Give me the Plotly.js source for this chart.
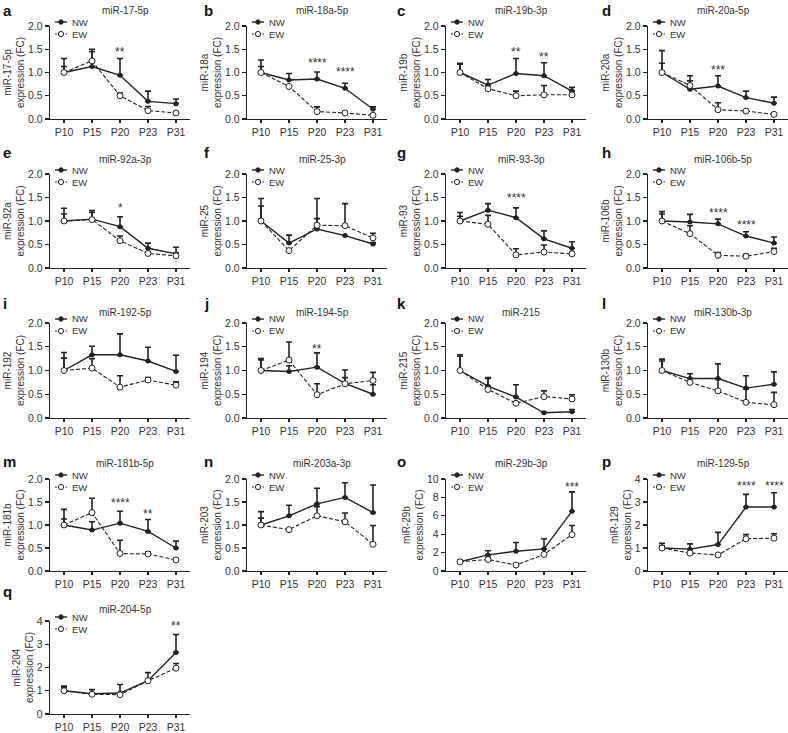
<!DOCTYPE html>
<html><head><meta charset="utf-8">
<script src="https://cdn.plot.ly/plotly-3.0.1.min.js"></script>
<style>body{margin:0;background:#fff}#chart{width:788px;height:733px}</style>
</head><body><div id="chart"></div>
<script>
const stages = ['P10','P15','P20','P23','P31'];
const seriesNames = ['NW','EW'];
const panelLetters = ['a','b','c','d','e','f','g','h','i','j','k','l','m','n','o','p','q'];
const panelTitles = ['miR-17-5p','miR-18a-5p','miR-19b-3p','miR-20a-5p','miR-92a-3p','miR-25-3p','miR-93-3p','miR-106b-5p','miR-192-5p','miR-194-5p','miR-215','miR-130b-3p','miR-181b-5p','miR-203a-3p','miR-29b-3p','miR-129-5p','miR-204-5p'];
const yLabels = ['miR-17-5p','miR-18a','miR-19b','miR-20a','miR-92a','miR-25','miR-93','miR-106b','miR-192','miR-194','miR-215','miR-130b','miR-181b','miR-203','miR-29b','miR-129','miR-204'];

const a_NW=[1.0,1.13,0.94,0.38,0.33], a_NWerr=[0.30,0.32,0.36,0.22,0.10];
const a_EW=[1.0,1.25,0.50,0.18,0.13], a_EWerr=[0.13,0.25,0.06,0.09,0.02];
const b_NW=[1.0,0.84,0.86,0.66,0.21], b_NWerr=[0.27,0.14,0.15,0.11,0.05];
const b_EW=[1.0,0.70,0.16,0.13,0.08], b_EWerr=[0.13,0.0,0.10,0.02,0.02];
const c_NW=[1.0,0.73,0.98,0.93,0.60], c_NWerr=[0.20,0.12,0.32,0.28,0.08];
const c_EW=[1.0,0.65,0.50,0.52,0.52], c_EWerr=[0.18,0.0,0.10,0.20,0.0];
const d_NW=[1.0,0.64,0.71,0.46,0.34], d_NWerr=[0.47,0.18,0.22,0.14,0.13];
const d_EW=[1.0,0.72,0.20,0.17,0.10], d_EWerr=[0.20,0.21,0.15,0.02,0.01];
const e_NW=[1.0,1.04,0.88,0.42,0.30], e_NWerr=[0.27,0.18,0.21,0.11,0.14];
const e_EW=[1.0,1.03,0.58,0.31,0.26], e_EWerr=[0.15,0.15,0.10,0.02,0.06];
const f_NW=[1.0,0.53,0.83,0.69,0.51], f_NWerr=[0.48,0.17,0.22,0.0,0.03];
const f_EW=[1.0,0.37,0.91,0.90,0.64], f_EWerr=[0.32,0.0,0.57,0.47,0.10];
const g_NW=[1.0,1.23,1.07,0.62,0.42], g_NWerr=[0.18,0.14,0.21,0.17,0.14];
const g_EW=[1.0,0.93,0.28,0.34,0.30], g_EWerr=[0.10,0.19,0.13,0.15,0.0];
const h_NW=[1.0,0.98,0.94,0.68,0.53], h_NWerr=[0.20,0.16,0.10,0.09,0.13];
const h_EW=[1.0,0.73,0.27,0.25,0.35], h_EWerr=[0.15,0.17,0.06,0.04,0.07];
const i_NW=[1.0,1.33,1.33,1.20,0.98], i_NWerr=[0.38,0.18,0.44,0.29,0.34];
const i_EW=[1.0,1.05,0.65,0.80,0.69], i_EWerr=[0.26,0.20,0.24,0.05,0.07];
const j_NW=[1.0,0.98,1.07,0.73,0.50], j_NWerr=[0.25,0.12,0.30,0.28,0.20];
const j_EW=[1.0,1.22,0.49,0.72,0.79], j_EWerr=[0.22,0.38,0.23,0.13,0.17];
const k_NW=[1.0,0.67,0.44,0.11,0.13], k_NWerr=[0.33,0.18,0.26,0.01,0.05];
const k_EW=[1.0,0.60,0.31,0.45,0.40], k_EWerr=[0.30,0.23,0.0,0.12,0.09];
const l_NW=[1.0,0.83,0.83,0.63,0.71], l_NWerr=[0.24,0.10,0.31,0.26,0.26];
const l_EW=[1.0,0.75,0.57,0.33,0.28], l_EWerr=[0.20,0.0,0.25,0.28,0.26];
const m_NW=[1.0,0.89,1.04,0.86,0.50], m_NWerr=[0.34,0.18,0.26,0.26,0.15];
const m_EW=[1.0,1.27,0.38,0.37,0.24], m_EWerr=[0.13,0.31,0.29,0.05,0.03];
const n_NW=[1.0,1.20,1.46,1.60,1.27], n_NWerr=[0.29,0.23,0.34,0.32,0.60];
const n_EW=[1.0,0.90,1.20,1.07,0.58], n_EWerr=[0.15,0.0,0.20,0.19,0.41];
const o_NW=[1.0,1.75,2.15,2.40,6.50], o_NWerr=[0.20,0.45,0.95,1.10,2.10];
const o_EW=[1.0,1.25,0.65,1.80,3.95], o_EWerr=[0.10,0.25,0.0,0.0,1.00];
const p_NW=[1.0,0.95,1.15,2.78,2.78], p_NWerr=[0.20,0.23,0.53,0.55,0.62];
const p_EW=[1.0,0.78,0.70,1.40,1.43], p_EWerr=[0.10,0.0,0.0,0.18,0.19];
const q_NW=[1.0,0.87,0.90,1.43,2.65], q_NWerr=[0.20,0.18,0.37,0.35,0.77];
const q_EW=[1.0,0.85,0.83,1.43,1.97], q_EWerr=[0.15,0.0,0.0,0.0,0.20];

const yMax  = [2,2,2,2,2,2,2,2,2,2,2,2,2,2,10,4,4];
const yStep = [0.5,0.5,0.5,0.5,0.5,0.5,0.5,0.5,0.5,0.5,0.5,0.5,0.5,0.5,2,1,1];

// significance marks: [panel letter, stage, y value, text]
const starPanel = ['a','b','b','c','c','d','e','g','h','h','j','m','m','o','p','p','q'];
const starStage = ['P20','P20','P23','P20','P23','P20','P20','P20','P20','P23','P20','P20','P23','P31','P23','P31','P31'];
const starY     = [1.45,1.2,1.02,1.44,1.34,1.05,1.27,1.49,1.16,0.91,1.46,1.47,1.24,9.1,3.68,3.68,3.79];
const starText  = ['**','****','****','**','**','***','*','****','****','****','**','****','**','***','****','****','**'];

const dataMap = {a:[a_NW,a_NWerr,a_EW,a_EWerr],b:[b_NW,b_NWerr,b_EW,b_EWerr],c:[c_NW,c_NWerr,c_EW,c_EWerr],d:[d_NW,d_NWerr,d_EW,d_EWerr],
 e:[e_NW,e_NWerr,e_EW,e_EWerr],f:[f_NW,f_NWerr,f_EW,f_EWerr],g:[g_NW,g_NWerr,g_EW,g_EWerr],h:[h_NW,h_NWerr,h_EW,h_EWerr],
 i:[i_NW,i_NWerr,i_EW,i_EWerr],j:[j_NW,j_NWerr,j_EW,j_EWerr],k:[k_NW,k_NWerr,k_EW,k_EWerr],l:[l_NW,l_NWerr,l_EW,l_EWerr],
 m:[m_NW,m_NWerr,m_EW,m_EWerr],n:[n_NW,n_NWerr,n_EW,n_EWerr],o:[o_NW,o_NWerr,o_EW,o_EWerr],p:[p_NW,p_NWerr,p_EW,p_EWerr],
 q:[q_NW,q_NWerr,q_EW,q_EWerr]};

// ---- layout geometry (pixels) ----
const W=788, H=733;
const colLeft=[50,247,446,648], plotW=140;
const rowTop=[26,174,323,479,621], rowBot=[119,268,418,571,714];
const titleYpx=[10,160,313,463,609];
const letterXpx=[1,202,395,600];
const letterYpx=[10,152,303,461,591];
const FONT='"Liberation Sans", Arial, sans-serif';
const INK='#222', TXT='#333';
const px=v=>v/W, py=v=>1-v/H;

const traces=[]; const shapes=[];
const layout={width:W,height:H,margin:{l:0,r:0,t:0,b:0},paper_bgcolor:'#fff',plot_bgcolor:'#fff',
  font:{family:FONT,color:TXT,size:10},showlegend:false,annotations:[],shapes:shapes};

panelLetters.forEach((L,idx)=>{
  const r=Math.floor(idx/4), c=idx%4, n=idx+1, sfx=n===1?'':String(n);
  const left=colLeft[c];
  const [nw,nwe,ew,ewe]=dataMap[L];
  traces.push({x:stages,y:nw,type:'scatter',mode:'lines+markers',name:seriesNames[0],xaxis:'x'+sfx,yaxis:'y'+sfx,
    line:{color:INK,width:1.4},marker:{symbol:'circle',size:5,color:INK},
    error_y:{type:'data',symmetric:false,array:nwe,arrayminus:nwe.map(()=>0),color:INK,thickness:1.6,width:3}});
  traces.push({x:stages,y:ew,type:'scatter',mode:'lines+markers',name:seriesNames[1],xaxis:'x'+sfx,yaxis:'y'+sfx,
    line:{color:INK,width:1.1,dash:'4px,2px'},marker:{symbol:'circle',size:6,color:'#fff',line:{color:INK,width:1}},
    error_y:{type:'data',symmetric:false,array:ewe,arrayminus:ewe.map(()=>0),color:INK,thickness:1.6,width:3}});
  layout['xaxis'+sfx]={domain:[px(left),px(left+plotW)],anchor:'y'+sfx,type:'category',categoryarray:stages,range:[-0.5,4.5],
    showline:true,linecolor:INK,linewidth:1.2,ticks:'outside',ticklen:3,tickcolor:INK,tickwidth:1.2,showgrid:false,zeroline:false,
    tickfont:{size:10.5,color:TXT},fixedrange:true};
  layout['yaxis'+sfx]={domain:[py(rowBot[r]),py(rowTop[r])],anchor:'x'+sfx,range:[0,yMax[idx]],dtick:yStep[idx],tick0:0,
    tickformat:yMax[idx]===2?'.1f':'d',showline:true,linecolor:INK,linewidth:1.2,ticks:'outside',ticklen:4,tickcolor:INK,tickwidth:1.2,
    showgrid:false,zeroline:false,tickfont:{size:10.5,color:TXT},
    title:{text:yLabels[idx]+'<br>expression (FC)',font:{size:10,color:TXT},standoff:1},fixedrange:true};
  // legend keys (drawn as a small key box at top-left of each panel)
  const lx0=left+5, lx1=left+17, ly=[rowTop[r]-4, rowTop[r]+8];
  [0,1].forEach(s=>{
    shapes.push({type:'line',xref:'paper',yref:'paper',x0:px(lx0),x1:px(lx1),y0:py(ly[s]),y1:py(ly[s]),
      line:{color:INK,width:s===0?1.4:1.1,dash:s===0?'solid':'2px,1.5px'}});
    const rr=s===0?2.2:2.6, cx=(lx0+lx1)/2;
    shapes.push({type:'circle',xref:'paper',yref:'paper',x0:px(cx-rr),x1:px(cx+rr),y0:py(ly[s]+rr),y1:py(ly[s]-rr),
      fillcolor:s===0?INK:'#fff',line:{color:INK,width:1}});
    layout.annotations.push({xref:'paper',yref:'paper',x:px(lx1+3),y:py(ly[s]),xanchor:'left',yanchor:'middle',
      text:seriesNames[s],showarrow:false,font:{size:9.5,color:TXT}});
  });
  layout.annotations.push({xref:'paper',yref:'paper',x:px(left+75),y:py(titleYpx[r]),xanchor:'center',yanchor:'middle',
    text:panelTitles[idx],showarrow:false,font:{size:10,color:TXT}});
  layout.annotations.push({xref:'paper',yref:'paper',x:px(letterXpx[c]),y:py(letterYpx[r]),xanchor:'left',yanchor:'middle',
    text:'<b>'+L+'</b>',showarrow:false,font:{size:15,color:'#111'}});
});

starPanel.forEach((L,k)=>{
  const n=panelLetters.indexOf(L)+1, sfx=n===1?'':String(n);
  layout.annotations.push({xref:'x'+sfx,yref:'y'+sfx,x:starStage[k],y:starY[k],text:starText[k],showarrow:false,
    xanchor:'center',yanchor:'middle',font:{size:12,color:TXT}});
});

Plotly.newPlot('chart',traces,layout,{displayModeBar:false,staticPlot:true});
</script></body></html>
